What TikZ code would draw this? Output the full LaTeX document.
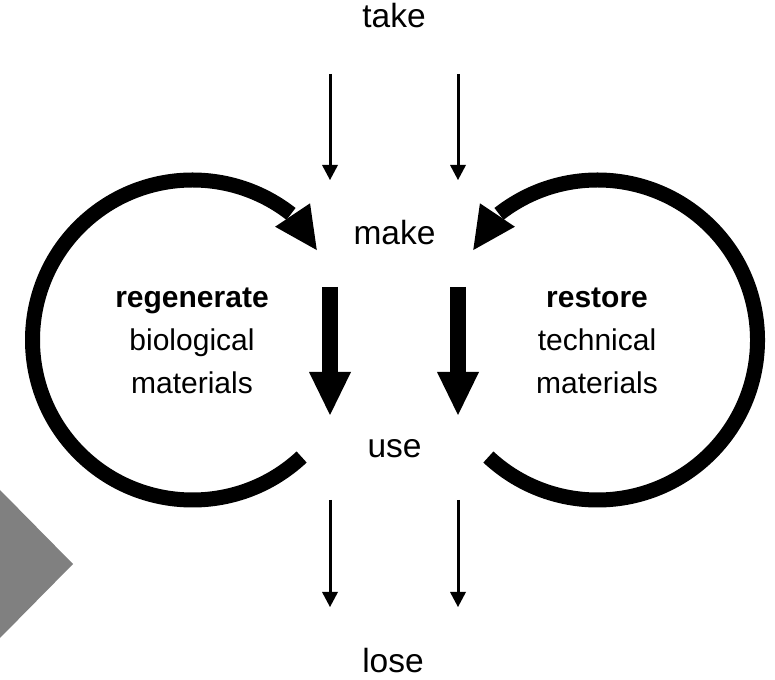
\documentclass[tikz,border=0pt]{standalone}
\usepackage{fontspec}
\setmainfont{Liberation Sans}
\usetikzlibrary{arrows.meta}
\begin{document}
\begin{tikzpicture}[x=1pt,y=1pt,
  lbl/.style={font=\fontsize{33.5}{40}\selectfont, anchor=base, inner sep=0pt},
  side/.style={font=\fontsize{30}{36}\selectfont, anchor=base, inner sep=0pt},
  thinarrow/.style={line width=3pt, -{Triangle[length=15pt,width=16pt,line width=0pt]}},
  thickarrow/.style={line width=16pt, -{Triangle[length=43pt,width=42pt,line width=0pt]}},
  loopline/.style={line width=15pt},
]
\useasboundingbox (0,0) rectangle (775,679);
% grey triangle
\fill[black!50] (0,189) -- (73,115) -- (0,41) -- cycle;
% centre labels
\node[lbl] (take) at (394,651) {take};
\node[lbl] (make) at (394.5,434) {make};
\node[lbl] (use)  at (394.5,221) {use};
\node[lbl] (lose) at (393,7) {lose};
% side labels
\node[side] (regen) at (192,371) {\bfseries regenerate};
\node[side] (bio)   at (192,328) {biological};
\node[side] (matl)  at (192,285) {materials};
\node[side] (rest)  at (597,371) {\bfseries restore};
\node[side] (tech)  at (597,328) {technical};
\node[side] (matr)  at (597,285) {materials};
% thin arrows
\coordinate (ta1) at (330,605); \coordinate (tb1) at (330,499);
\coordinate (ta2) at (458,605); \coordinate (tb2) at (458,499);
\coordinate (ua1) at (330,179); \coordinate (ub1) at (330,72);
\coordinate (ua2) at (458,179); \coordinate (ub2) at (458,72);
\draw[thinarrow] (ta1) -- (tb1);
\draw[thinarrow] (ta2) -- (tb2);
\draw[thinarrow] (ua1) -- (ub1);
\draw[thinarrow] (ua2) -- (ub2);
% thick arrows
\coordinate (ma1) at (330,392); \coordinate (mb1) at (330,264);
\coordinate (ma2) at (458,392); \coordinate (mb2) at (458,264);
\draw[thickarrow] (ma1) -- (mb1);
\draw[thickarrow] (ma2) -- (mb2);
% left loop
\begin{scope}[shift={(192.5,339)}]
  \draw[loopline] (-47:160) arc[start angle=-47,end angle=-308,radius=160];
  \fill (53.9:140.2) -- (49.3:180.3) -- (35.9:153.4) -- cycle;
\end{scope}
% right loop (mirrored)
\begin{scope}[shift={(597.5,339)},xscale=-1]
  \draw[loopline] (-47:160) arc[start angle=-47,end angle=-308,radius=160];
  \fill (53.9:140.2) -- (49.3:180.3) -- (35.9:153.4) -- cycle;
\end{scope}
\end{tikzpicture}
\end{document}
